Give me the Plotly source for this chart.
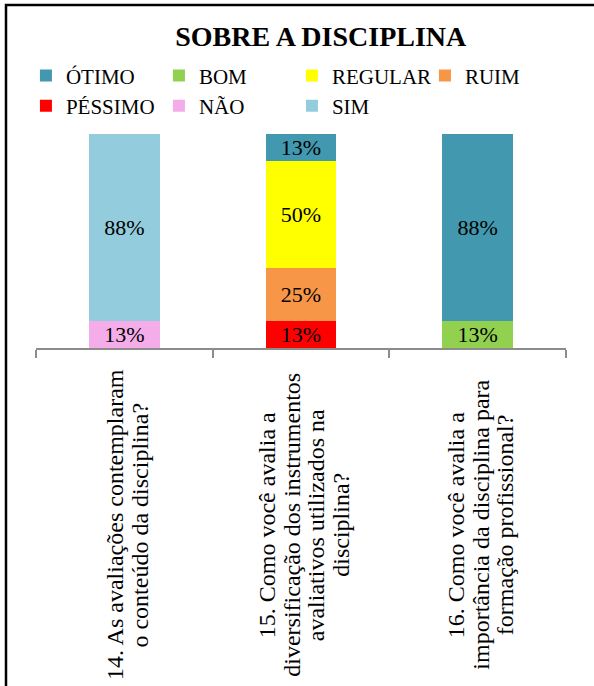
import math
import plotly.graph_objects as go

category_lines = [
    ["14. As avaliações contemplaram", "o conteúdo da disciplina?"],
    ["15. Como você avalia a", "diversificação dos instrumentos", "avaliativos utilizados na", "disciplina?"],
    ["16. Como você avalia a", "importância da disciplina para", "formação profissional?"],
]
categories = [" ".join(lines) for lines in category_lines]

otimo = [None, 12.5, 87.5]
bom = [None, None, 12.5]
regular = [None, 50.0, None]
ruim = [None, 25.0, None]
pessimo = [None, 12.5, None]
nao = [12.5, None, None]
sim = [87.5, None, None]

# stacking order bottom -> top, with legend rank
series = [
    ("NÃO", nao, "#F5ADE9", 6),
    ("SIM", sim, "#93CDDD", 7),
    ("PÉSSIMO", pessimo, "#FF0000", 5),
    ("RUIM", ruim, "#F79646", 4),
    ("REGULAR", regular, "#FFFF00", 3),
    ("BOM", bom, "#92D050", 2),
    ("ÓTIMO", otimo, "#4198AF", 1),
]

FONT = "Liberation Serif, Times New Roman, serif"


def lab(v):
    return "" if v is None else f"{math.floor(v + 0.5)}%"


fig = go.Figure()
for name, vals, color, rank in series:
    fig.add_trace(go.Bar(
        name=name, x=categories, y=vals,
        marker=dict(color=color, line=dict(width=0)),
        text=[lab(v) for v in vals],
        textposition="inside", insidetextanchor="middle",
        textangle=0, constraintext="none",
        textfont=dict(family=FONT, size=22, color="black"),
        legendrank=rank,
    ))

annotations = []
for cat, lines in zip(categories, category_lines):
    n = len(lines)
    for i, line in enumerate(lines):
        annotations.append(dict(
            x=cat, xref="x", y=-0.827, yref="paper",
            text=line, showarrow=False, textangle=-90,
            xanchor="center", yanchor="middle",
            xshift=(i - (n - 1) / 2) * 24.5 + 3,
            font=dict(family=FONT, size=24, color="black"),
        ))

fig.update_layout(
    width=594, height=686,
    margin=dict(l=36, r=28, t=134, b=338),
    paper_bgcolor="white", plot_bgcolor="white",
    barmode="stack", bargap=0.6,
    title=dict(text="<b>SOBRE A DISCIPLINA</b>", x=0.54, xref="container",
               y=1 - 36 / 686, yref="container", xanchor="center", yanchor="middle",
               font=dict(family=FONT, size=28, color="black")),
    legend=dict(orientation="h", x=-0.019, y=1.368, xanchor="left", yanchor="top",
                entrywidth=88, entrywidthmode="pixels", traceorder="normal",
                font=dict(family=FONT, size=21, color="black"),
                bgcolor="rgba(0,0,0,0)"),
    xaxis=dict(type="category", categoryorder="array", categoryarray=categories,
               range=[-0.5, len(categories) - 0.5], autorange=False,
               showline=True, linecolor="#8C8C8C", linewidth=1.5,
               ticks="outside", ticklen=8, tickcolor="#8C8C8C", tickwidth=1.5,
               tickson="boundaries", showticklabels=False, showgrid=False),
    yaxis=dict(range=[0, 100], visible=False, showgrid=False),
    annotations=annotations,
    shapes=[dict(type="rect", xref="paper", yref="paper",
                 x0=(6 - 36) / 530, x1=1.2, y0=-2.0, y1=(348 - 5) / 214,
                 line=dict(color="black", width=2.5), fillcolor="rgba(0,0,0,0)",
                 layer="above")],
    showlegend=True,
)

fig.write_html("out.html", config={"displayModeBar": False},
               post_script="document.body.style.margin='0';")
